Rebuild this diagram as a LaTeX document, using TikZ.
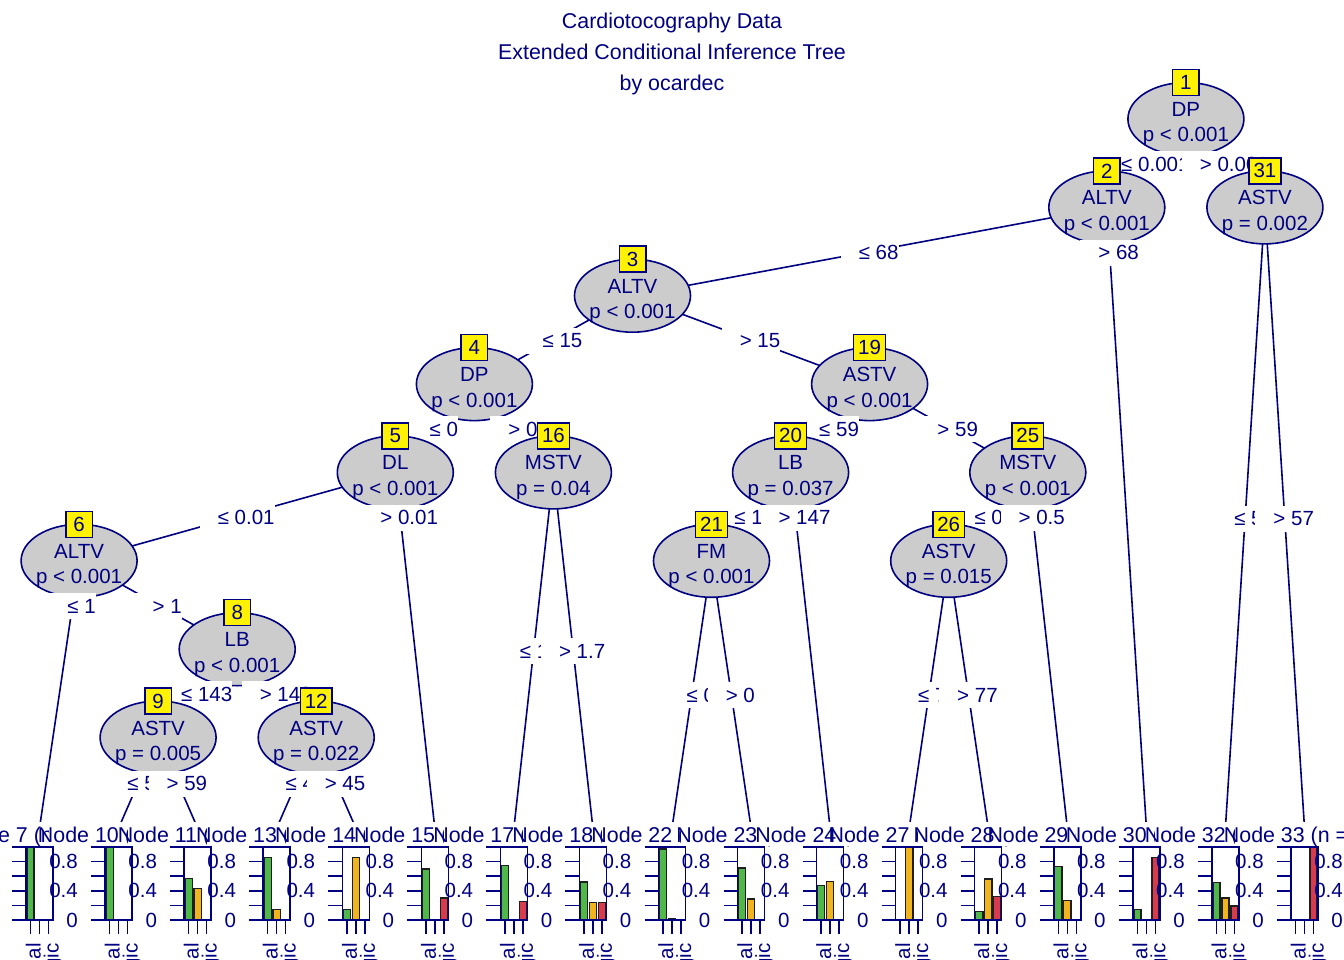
\documentclass[tikz,border=0pt]{standalone}
\usepackage{fontspec}
\setmainfont{Liberation Sans}
\usetikzlibrary{shapes.geometric}
\definecolor{nv}{RGB}{0,0,128}
\definecolor{ellfill}{RGB}{204,204,204}
\definecolor{cg}{RGB}{80,184,72}
\definecolor{co}{RGB}{240,180,30}
\definecolor{cr}{RGB}{217,59,78}
\definecolor{barline}{RGB}{30,30,30}
\tikzset{
  lab/.style={text=nv, inner sep=0pt},
  biglab/.style={text=nv, inner sep=0pt, font=\fontsize{21.4}{25}\selectfont},
  edge/.style={draw=nv, line width=1.6pt},
  innerell/.style={ellipse, draw=nv, fill=ellfill, line width=1.6pt, minimum width=116pt, minimum height=73pt, inner sep=0pt},
  idbox/.style={rectangle, draw=nv, fill=yellow, line width=1.5pt, minimum width=26.5pt, minimum height=26pt, inner xsep=4.5pt, inner ysep=0pt, text=nv},
  elab/.style={fill=white, text=nv, inner sep=0pt, minimum height=26pt},
  ax/.style={draw=nv, line width=1.5pt},
  bar/.style={draw=barline, line width=1.4pt}
}
\newcommand{\mkinner}[5]{%
  \node[innerell] (n#1) at (#2,#3) {};
  \node[idbox] (b#1) at (#2,{#3-36.5}) {#1};
  \node[lab,anchor=base] (v#1) at (#2,{#3-2.5}) {#4};
  \node[lab,anchor=base] (s#1) at (#2,{#3+23}) {#5};
}
\newcommand{\mklab}[4]{%
  \node[elab] (#1) at (#2,#3) {\hspace*{18pt}#4};
}
\newcommand{\mkleaf}[6]{%
  \fill[white] ({#2-70},822) rectangle ({#2+70},846);
  \node[biglab,anchor=base] (t#1) at (#2,842) {Node #1 (n = #3)};
  \filldraw[bar,fill=cg] ({#2-12.6},920) rectangle ({#2-5.4},{920-73*#4});
  \filldraw[bar,fill=co] ({#2-3.6},920) rectangle ({#2+3.6},{920-73*#5});
  \filldraw[bar,fill=cr] ({#2+5.4},920) rectangle ({#2+12.6},{920-73*#6});
  \draw[ax] ({#2-13.5},847) rectangle ({#2+13.5},920);
  \foreach \k in {0,...,5} \draw[ax] ({#2-27.5},{920-14.6*\k}) -- ({#2-13.5},{920-14.6*\k});
  \foreach \j in {-9,0,9} \draw[ax] ({#2+\j},920) -- ({#2+\j},934);
  \node[lab,anchor=east] (ya#1) at ({#2+38.5},861.6) {0.8};
  \node[lab,anchor=east] (yb#1) at ({#2+38.5},890.8) {0.4};
  \node[lab,anchor=east] (yc#1) at ({#2+38.5},920) {0};
  \node[lab,rotate=90,anchor=base east] (xa#1) at ({#2+1},943) {Normal};
  \node[lab,rotate=90,anchor=base east] (xc#1) at ({#2+19},943) {Pathologic};
}
\begin{document}
\begin{tikzpicture}[x=1pt,y=-1pt,font=\fontsize{20.5}{24}\selectfont]
\useasboundingbox[fill=white] (0,0) rectangle (1344,960);
% title
\node[biglab,anchor=base] (title1) at (672,28.5) {Cardiotocography Data};
\node[biglab,anchor=base] (title2) at (672,59.5) {Extended Conditional Inference Tree};
\node[biglab,anchor=base] (title3) at (672,90.5) {by ocardec};
% positions
\coordinate (p1) at (1185.9,119);
\coordinate (p2) at (1106.8,207.4);
\coordinate (p31) at (1264.9,207.4);
\coordinate (p3) at (632.5,295.7);
\coordinate (p4) at (474.4,384.1);
\coordinate (p19) at (869.6,384.1);
\coordinate (p5) at (395.3,472.4);
\coordinate (p16) at (553.4,472.4);
\coordinate (p20) at (790.6,472.4);
\coordinate (p25) at (1027.8,472.4);
\coordinate (p6) at (79.1,560.8);
\coordinate (p21) at (711.5,560.8);
\coordinate (p26) at (948.7,560.8);
\coordinate (p8) at (237.2,649.2);
\coordinate (p9) at (158.1,737.5);
\coordinate (p12) at (316.2,737.5);
\coordinate (q7) at (39.5,828);
\coordinate (q10) at (118.6,828);
\coordinate (q11) at (197.6,828);
\coordinate (q13) at (276.7,828);
\coordinate (q14) at (355.8,828);
\coordinate (q15) at (434.8,828);
\coordinate (q17) at (513.9,828);
\coordinate (q18) at (592.9,828);
\coordinate (q22) at (672.0,828);
\coordinate (q23) at (751.1,828);
\coordinate (q24) at (830.1,828);
\coordinate (q27) at (909.2,828);
\coordinate (q28) at (988.2,828);
\coordinate (q29) at (1067.3,828);
\coordinate (q30) at (1146.4,828);
\coordinate (q32) at (1225.4,828);
\coordinate (q33) at (1304.5,828);
% node 1
\draw[edge] (p1) -- (p2); \draw[edge] (p1) -- (p31);
\mkinner{1}{1185.9}{119}{DP}{p < 0.001}
\mklab{e1a}{1146.35}{164.2}{≤ 0.001}
% node 2
\draw[edge] (p2) -- (p3); \draw[edge] (p2) -- (q30);
\mkinner{2}{1106.8}{207.4}{ALTV}{p < 0.001}
\mklab{e2a}{869.65}{252.55}{≤ 68}
% node 3
\draw[edge] (p3) -- (p4); \draw[edge] (p3) -- (p19);
\mkinner{3}{632.5}{295.7}{ALTV}{p < 0.001}
\mklab{e3a}{553.45}{340.9}{≤ 15}
% node 4
\draw[edge] (p4) -- (p5); \draw[edge] (p4) -- (p16);
\mkinner{4}{474.4}{384.1}{DP}{p < 0.001}
\mklab{e4a}{434.85}{429.25}{≤ 0}
% node 5
\draw[edge] (p5) -- (p6); \draw[edge] (p5) -- (q15);
\mkinner{5}{395.3}{472.4}{DL}{p < 0.001}
\mklab{e5a}{237.2}{517.6}{≤ 0.01}
% node 6
\draw[edge] (p6) -- (q7); \draw[edge] (p6) -- (p8);
\mkinner{6}{79.1}{560.8}{ALTV}{p < 0.001}
\mklab{e6a}{72.55}{606}{≤ 1}
\mkleaf{7}{39.5}{574}{1}{0}{0}
\mklab{e6b}{158.15}{606}{> 1}
% node 8
\draw[edge] (p8) -- (p9); \draw[edge] (p8) -- (p12);
\mkinner{8}{237.2}{649.2}{LB}{p < 0.001}
\mklab{e8a}{197.65}{694.35}{≤ 143}
% node 9
\draw[edge] (p9) -- (q10); \draw[edge] (p9) -- (q11);
\mkinner{9}{158.1}{737.5}{ASTV}{p = 0.005}
\mklab{e9a}{138.35}{783.75}{≤ 59}
\mkleaf{10}{118.6}{64}{1}{0}{0}
\mklab{e9b}{177.85}{783.75}{> 59}
\mkleaf{11}{197.6}{21}{0.57}{0.43}{0}
\mklab{e8b}{276.7}{694.35}{> 143}
% node 12
\draw[edge] (p12) -- (q13); \draw[edge] (p12) -- (q14);
\mkinner{12}{316.2}{737.5}{ASTV}{p = 0.022}
\mklab{e12a}{296.45}{783.75}{≤ 45}
\mkleaf{13}{276.7}{14}{0.86}{0.14}{0}
\mklab{e12b}{336.0}{783.75}{> 45}
\mkleaf{14}{355.8}{14}{0.14}{0.86}{0}
\mklab{e5b}{400.2}{517.6}{> 0.01}
\mkleaf{15}{434.8}{10}{0.7}{0}{0.3}
\mklab{e4b}{513.9}{429.25}{> 0}
% node 16
\draw[edge] (p16) -- (q17); \draw[edge] (p16) -- (q18);
\mkinner{16}{553.4}{472.4}{MSTV}{p = 0.04}
\mklab{e16a}{533.65}{651.2}{≤ 1.7}
\mkleaf{17}{513.9}{12}{0.75}{0}{0.25}
\mklab{e16b}{573.15}{651.2}{> 1.7}
\mkleaf{18}{592.9}{21}{0.52}{0.24}{0.24}
\mklab{e3b}{751.05}{340.9}{> 15}
% node 19
\draw[edge] (p19) -- (p20); \draw[edge] (p19) -- (p25);
\mkinner{19}{869.6}{384.1}{ASTV}{p < 0.001}
\mklab{e19a}{830.1}{429.25}{≤ 59}
% node 20
\draw[edge] (p20) -- (p21); \draw[edge] (p20) -- (q24);
\mkinner{20}{790.6}{472.4}{LB}{p = 0.037}
\mklab{e20a}{751.05}{517.6}{≤ 147}
% node 21
\draw[edge] (p21) -- (q22); \draw[edge] (p21) -- (q23);
\mkinner{21}{711.5}{560.8}{FM}{p < 0.001}
\mklab{e21a}{691.75}{695.4}{≤ 0}
\mkleaf{22}{672.0}{59}{0.97}{0.02}{0}
\mklab{e21b}{731.3}{695.4}{> 0}
\mkleaf{23}{751.1}{7}{0.71}{0.29}{0}
\mklab{e20b}{795.5}{517.6}{> 147}
\mkleaf{24}{830.1}{9}{0.47}{0.53}{0}
\mklab{e19b}{948.7}{429.25}{> 59}
% node 25
\draw[edge] (p25) -- (p26); \draw[edge] (p25) -- (q29);
\mkinner{25}{1027.8}{472.4}{MSTV}{p < 0.001}
\mklab{e25a}{988.25}{517.6}{≤ 0.5}
% node 26
\draw[edge] (p26) -- (q27); \draw[edge] (p26) -- (q28);
\mkinner{26}{948.7}{560.8}{ASTV}{p = 0.015}
\mklab{e26a}{928.95}{695.4}{≤ 77}
\mkleaf{27}{909.2}{12}{0}{1}{0}
\mklab{e26b}{968.45}{695.4}{> 77}
\mkleaf{28}{988.2}{9}{0.12}{0.56}{0.32}
\mklab{e25b}{1032.7}{517.6}{> 0.5}
\mkleaf{29}{1067.3}{11}{0.73}{0.27}{0}
\mklab{e2b}{1109.6}{252.55}{> 68}
\mkleaf{30}{1146.4}{14}{0.14}{0}{0.86}
\mklab{e1b}{1225.4}{164.2}{> 0.001}
% node 31
\draw[edge] (p31) -- (q32); \draw[edge] (p31) -- (q33);
\mkinner{31}{1264.9}{207.4}{ASTV}{p = 0.002}
\mklab{e31a}{1245.15}{518.7}{≤ 57}
\mkleaf{32}{1225.4}{37}{0.51}{0.30}{0.19}
\mklab{e31b}{1284.7}{518.7}{> 57}
\mkleaf{33}{1304.5}{40}{0}{0}{1}
\end{tikzpicture}
\end{document}
